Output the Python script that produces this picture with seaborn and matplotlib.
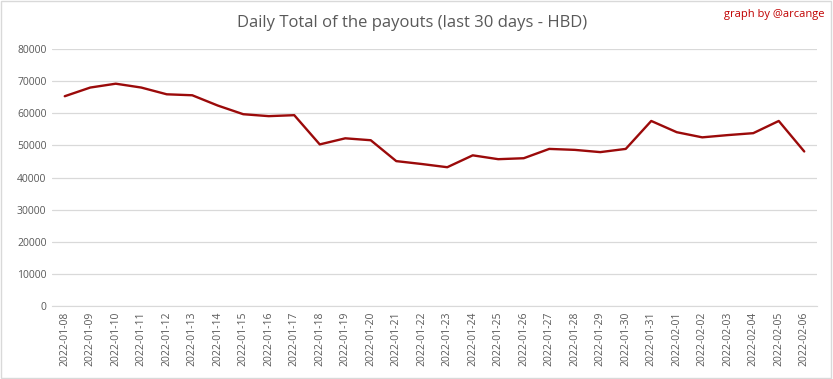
import pandas as pd
import matplotlib
matplotlib.use('Agg')
import matplotlib.pyplot as plt
import seaborn as sns

# Data
dates = ['2022-01-08', '2022-01-09', '2022-01-10', '2022-01-11', '2022-01-12',
         '2022-01-13', '2022-01-14', '2022-01-15', '2022-01-16', '2022-01-17',
         '2022-01-18', '2022-01-19', '2022-01-20', '2022-01-21', '2022-01-22',
         '2022-01-23', '2022-01-24', '2022-01-25', '2022-01-26', '2022-01-27',
         '2022-01-28', '2022-01-29', '2022-01-30', '2022-01-31', '2022-02-01',
         '2022-02-02', '2022-02-03', '2022-02-04', '2022-02-05', '2022-02-06']
payouts = [65300, 68000, 69200, 68000, 65900, 65600, 62400, 59700, 59100, 59400,
           50300, 52200, 51600, 45100, 44200, 43200, 46900, 45700, 46000, 48900,
           48600, 47900, 48900, 57600, 54100, 52500, 53200, 53800, 57600, 48100]
y_ticks = [0, 10000, 20000, 30000, 40000, 50000, 60000, 70000, 80000]

df = pd.DataFrame({'Date': dates, 'Payout': payouts})

sns.set_style('white')
plt.rcParams['font.family'] = ['Open Sans', 'DejaVu Sans']

fig = plt.figure(figsize=(8.33, 3.79), dpi=100)
ax = fig.add_axes([52 / 833, 1 - 306 / 379, (817 - 52) / 833, (306 - 49) / 379])

sns.lineplot(data=df, x='Date', y='Payout', ax=ax, color='#9B0A0A',
             linewidth=1.7, sort=False)

ax.set_xlim(-0.5, len(dates) - 0.5)
ax.set_ylim(0, 80000)
ax.set_yticks(y_ticks)
ax.set_yticklabels([str(v) for v in y_ticks])
ax.set_xticks(range(len(dates)))
ax.set_xticklabels(dates, rotation=90)
ax.grid(axis='y', color='#D9D9D9', linewidth=0.9)
ax.set_axisbelow(True)
for side in ['top', 'right', 'left']:
    ax.spines[side].set_visible(False)
ax.spines['bottom'].set_color('#D9D9D9')
ax.tick_params(axis='both', length=0, labelsize=7.5, labelcolor='#595959', pad=4)
ax.set_xlabel('')
ax.set_ylabel('')

fig.text(0.5 - 4 / 833, 1 - 23 / 379, 'Daily Total of the payouts (last 30 days - HBD)',
         ha='center', va='center', fontsize=12, color='#595959')
fig.text(1 - 8 / 833, 1 - 14 / 379, 'graph by @arcange', ha='right', va='center',
         fontsize=8, color='#C00000')

# light gray frame around the whole chart
fig.patches.append(plt.Rectangle((0.001, 0.002), 0.997, 0.995, transform=fig.transFigure,
                                 fill=False, edgecolor='#D9D9D9', linewidth=1))

plt.savefig('out.png', dpi=100)
